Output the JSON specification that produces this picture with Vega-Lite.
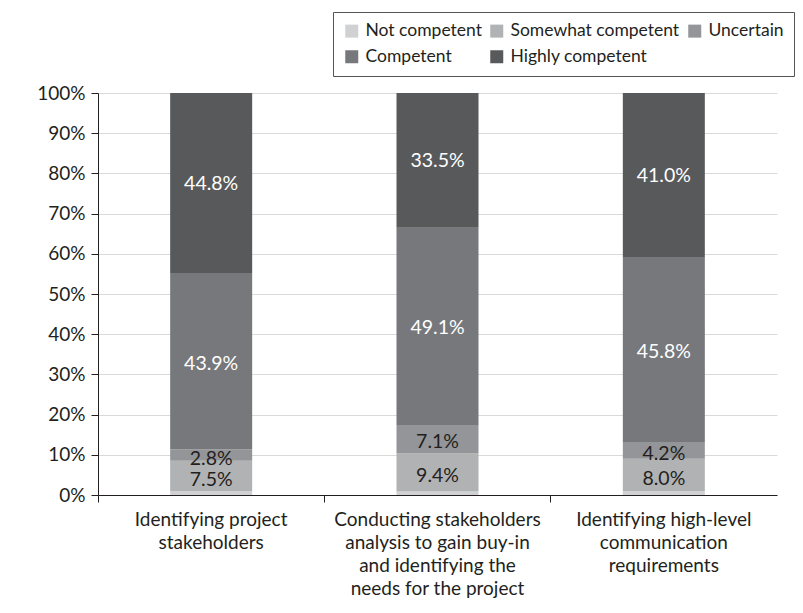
{
  "$schema": "https://vega.github.io/schema/vega-lite/v6.json",
  "width": 679,
  "height": 402,
  "autosize": "none",
  "padding": {"left": 98, "top": 93, "right": 26, "bottom": 118},
  "background": "white",
  "config": {
    "font": "Lato",
    "view": {"stroke": null},
    "axis": {"labelFont": "Lato", "labelColor": "#231f20", "labelFontSize": 19, "domainColor": "#231f20", "tickColor": "#231f20", "titleFont": "Lato"},
    "legend": {"labelFont": "Lato", "labelFontSize": 17.5, "labelColor": "#231f20", "labelLimit": 300}
  },
  "data": {
    "values": [
      {"task": "Identifying project|stakeholders", "level": "Not competent", "ord": 1, "value": 0.010},
      {"task": "Identifying project|stakeholders", "level": "Somewhat competent", "ord": 2, "value": 0.075},
      {"task": "Identifying project|stakeholders", "level": "Uncertain", "ord": 3, "value": 0.028},
      {"task": "Identifying project|stakeholders", "level": "Competent", "ord": 4, "value": 0.439},
      {"task": "Identifying project|stakeholders", "level": "Highly competent", "ord": 5, "value": 0.448},
      {"task": "Conducting stakeholders|analysis to gain buy-in|and identifying the|needs for the project", "level": "Not competent", "ord": 1, "value": 0.009},
      {"task": "Conducting stakeholders|analysis to gain buy-in|and identifying the|needs for the project", "level": "Somewhat competent", "ord": 2, "value": 0.094},
      {"task": "Conducting stakeholders|analysis to gain buy-in|and identifying the|needs for the project", "level": "Uncertain", "ord": 3, "value": 0.071},
      {"task": "Conducting stakeholders|analysis to gain buy-in|and identifying the|needs for the project", "level": "Competent", "ord": 4, "value": 0.491},
      {"task": "Conducting stakeholders|analysis to gain buy-in|and identifying the|needs for the project", "level": "Highly competent", "ord": 5, "value": 0.335},
      {"task": "Identifying high-level|communication|requirements", "level": "Not competent", "ord": 1, "value": 0.010},
      {"task": "Identifying high-level|communication|requirements", "level": "Somewhat competent", "ord": 2, "value": 0.080},
      {"task": "Identifying high-level|communication|requirements", "level": "Uncertain", "ord": 3, "value": 0.042},
      {"task": "Identifying high-level|communication|requirements", "level": "Competent", "ord": 4, "value": 0.458},
      {"task": "Identifying high-level|communication|requirements", "level": "Highly competent", "ord": 5, "value": 0.410}
    ]
  },
  "encoding": {
    "x": {
      "field": "task", "type": "nominal", "sort": null, "title": null,
      "scale": {"paddingInner": 0, "paddingOuter": 0},
      "axis": {"labelAngle": 0, "labelExpr": "split(datum.label, '|')", "bandPosition": 0, "tickSize": 7, "labelPadding": 8, "labelLineHeight": 23, "labelBaseline": "top", "labelLimit": 300}
    }
  },
  "layer": [
    {
      "mark": {"type": "bar", "size": 82},
      "encoding": {
        "y": {
          "field": "value", "type": "quantitative", "stack": "normalize", "title": null,
          "axis": {"format": ".0%", "tickCount": 10, "gridColor": "#d9d9d9", "tickSize": 7, "labelPadding": 6}
        },
        "color": {
          "field": "level", "type": "nominal",
          "scale": {"domain": ["Not competent", "Somewhat competent", "Uncertain", "Competent", "Highly competent"], "range": ["#d0d1d3", "#b1b2b4", "#939598", "#77787b", "#58595b"]},
          "legend": {"title": null, "orient": "none", "legendX": 235, "legendY": -81, "columns": 3, "direction": "horizontal", "symbolType": "square", "symbolSize": 169, "symbolStrokeWidth": 0, "strokeColor": "#555555", "padding": 10, "columnPadding": 6, "rowPadding": 7, "labelOffset": 5, "labelLimit": 300}
        },
        "order": {"field": "ord", "type": "quantitative", "sort": "ascending"}
      }
    },
    {
      "transform": [{"filter": "datum.level !== 'Not competent'"}],
      "mark": {"type": "text", "fontSize": 19.5, "font": "Lato"},
      "encoding": {
        "y": {"field": "value", "type": "quantitative", "stack": "normalize", "bandPosition": 0.5},
        "text": {"field": "value", "type": "quantitative", "format": ".1%"},
        "order": {"field": "ord", "type": "quantitative", "sort": "ascending"},
        "color": {"condition": {"test": "datum.level === 'Competent' || datum.level === 'Highly competent'", "value": "white"}, "value": "#231f20"}
      }
    }
  ]
}
